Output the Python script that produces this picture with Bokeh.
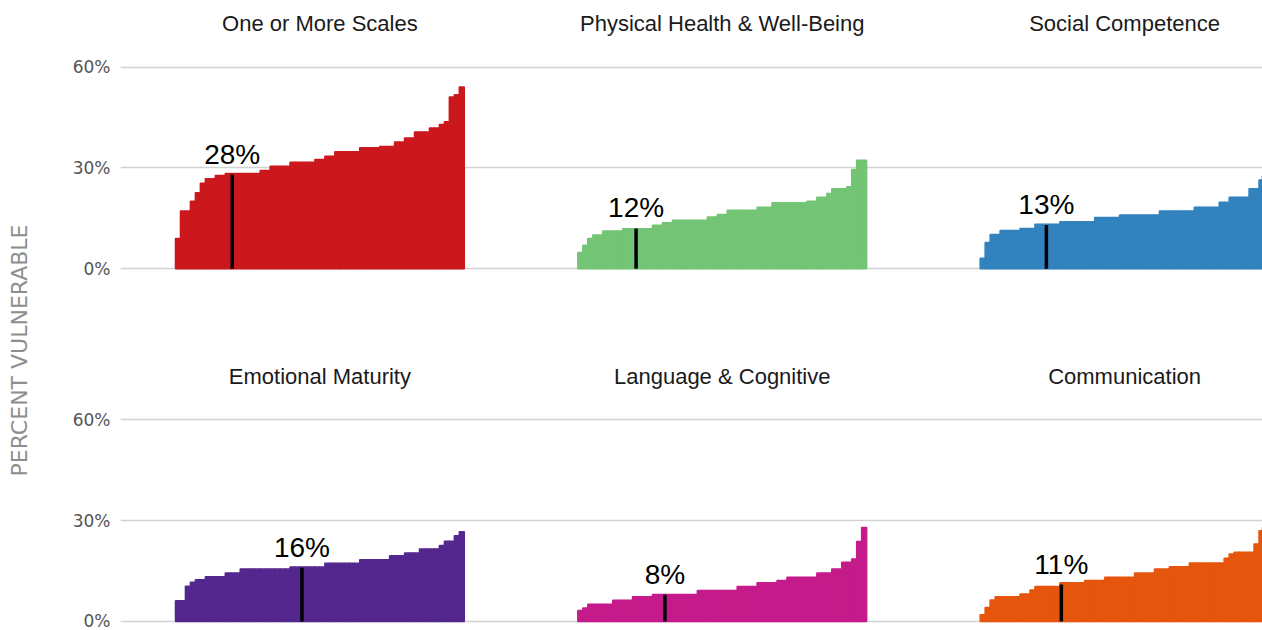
import numpy as np
from bokeh.plotting import figure
from bokeh.layouts import row
from bokeh.models import Range1d, FixedTicker, ColumnDataSource
from bokeh.core.properties import value
from bokeh.embed import file_html
from bokeh.resources import INLINE

# ---------------- data ----------------
titles = ["One or More Scales", "Physical Health & Well-Being", "Social Competence",
          "Emotional Maturity", "Language & Cognitive", "Communication"]
colors = ["#cb181d", "#74c476", "#3182bd", "#54278f", "#c51b8a", "#e6550d"]

one_or_more = [9.0, 17.2, 17.2, 20.1, 22.6, 25.4, 26.8, 26.8, 27.7, 27.7,
               28.3, 28.3, 28.3, 28.3, 28.3, 28.3, 28.3, 29.2, 29.2, 30.5,
               30.5, 30.5, 30.5, 31.7, 31.7, 31.7, 31.7, 31.7, 32.5, 32.5,
               33.5, 33.5, 34.8, 34.8, 34.8, 34.8, 34.8, 36.0, 36.0, 36.0,
               36.0, 36.4, 36.4, 36.4, 37.7, 37.7, 38.9, 38.9, 40.7, 40.7,
               40.7, 41.9, 41.9, 42.9, 43.7, 51.1, 51.8, 54.1]
physical = [4.8, 7.0, 9.0, 10.0, 10.0, 11.2, 11.2, 11.2, 11.2, 11.9,
            11.9, 11.9, 11.9, 11.9, 11.9, 12.9, 12.9, 13.7, 13.7, 14.4,
            14.4, 14.4, 14.4, 14.4, 14.4, 14.4, 15.4, 15.4, 16.1, 16.1,
            17.4, 17.4, 17.4, 17.4, 17.4, 17.4, 18.3, 18.3, 18.3, 19.6,
            19.6, 19.6, 19.6, 19.6, 19.6, 19.6, 20.1, 20.1, 21.3, 21.3,
            22.4, 23.8, 23.8, 23.8, 24.4, 29.5, 32.3, 32.3]
social = [3.1, 7.8, 10.2, 10.2, 11.4, 11.4, 11.4, 11.4, 12.0, 12.0,
          12.0, 13.2, 13.2, 13.2, 13.2, 13.2, 14.0, 14.0, 14.0, 14.0,
          14.0, 14.0, 14.0, 15.2, 15.2, 15.2, 15.2, 15.2, 16.0, 16.0,
          16.0, 16.0, 16.0, 16.0, 16.0, 16.0, 17.2, 17.2, 17.2, 17.2,
          17.2, 17.2, 17.2, 18.3, 18.3, 18.3, 18.3, 18.3, 19.8, 19.8,
          21.3, 21.3, 21.3, 21.3, 23.8, 23.8, 26.4, 27.5]
emotional = [6.2, 6.2, 10.5, 11.7, 12.4, 12.4, 13.3, 13.3, 13.3, 13.3,
             14.4, 14.4, 14.4, 15.6, 15.6, 15.6, 15.6, 15.6, 15.6, 15.6,
             15.6, 15.6, 15.6, 16.2, 16.2, 16.2, 16.2, 16.2, 16.2, 16.2,
             17.3, 17.3, 17.3, 17.3, 17.3, 17.3, 17.3, 18.4, 18.4, 18.4,
             18.4, 18.4, 18.4, 19.6, 19.6, 19.6, 20.4, 20.4, 20.4, 21.6,
             21.6, 21.6, 21.6, 22.6, 23.9, 23.9, 25.5, 26.7]
language = [3.3, 4.0, 5.1, 5.1, 5.1, 5.1, 5.1, 6.3, 6.3, 6.3,
            6.3, 7.4, 7.4, 7.4, 7.4, 8.0, 8.0, 8.0, 8.0, 8.0,
            8.0, 8.0, 8.0, 8.0, 9.2, 9.2, 9.2, 9.2, 9.2, 9.2,
            9.2, 9.2, 10.4, 10.4, 10.4, 10.4, 11.5, 11.5, 11.5, 11.5,
            12.2, 12.2, 13.2, 13.2, 13.2, 13.2, 13.2, 13.2, 14.4, 14.4,
            14.4, 15.6, 15.6, 17.6, 17.6, 18.6, 23.8, 28.0]
communication = [2.0, 4.2, 6.4, 7.4, 7.4, 7.4, 7.4, 7.4, 8.2, 8.2,
                 9.4, 10.4, 10.4, 10.4, 10.4, 10.4, 11.5, 11.5, 11.5, 11.5,
                 11.5, 12.2, 12.2, 12.2, 12.2, 13.2, 13.2, 13.2, 13.2, 13.2,
                 13.2, 14.4, 14.4, 14.4, 14.4, 15.6, 15.6, 15.6, 16.3, 16.3,
                 16.3, 16.3, 17.4, 17.4, 17.4, 17.4, 17.4, 17.4, 17.4, 18.8,
                 20.1, 20.6, 20.6, 20.6, 20.6, 23.1, 27.0, 28.0]
series = [one_or_more, physical, social, emotional, language, communication]

marker_values = [28, 12, 13, 16, 8, 11]
marker_positions = [11.4, 11.7, 13.3, 25.4, 17.5, 16.3]

tick_values = [0, 30, 60]
tick_labels = ["0%", "30%", "60%"]
y_axis_title = "PERCENT VULNERABLE"

# ---------------- layout ----------------
STRIDE = 80.8        # horizontal distance between panel starts (bar units)
ROW_OFFSET = 105     # vertical shift of the top row (percentage units)
panel_col = [0, 1, 2, 0, 1, 2]
panel_row_off = [ROW_OFFSET, ROW_OFFSET, ROW_OFFSET, 0, 0, 0]
TITLE_Y = 73.0
LABEL_GAP = 6.1

# narrow side figure carrying the rotated axis title
side = figure(width=40, height=630, output_backend="svg", toolbar_location=None,
              x_range=Range1d(0, 40), y_range=Range1d(0, 630),
              x_axis_location=None, y_axis_location=None,
              min_border_left=0, min_border_right=0, min_border_top=0,
              min_border_bottom=0)
side.outline_line_color = None
side.xgrid.visible = False
side.ygrid.visible = False
side.text(x=[18.5], y=[280], text=[y_axis_title], angle=np.pi / 2,
          text_align="center", text_baseline="middle",
          text_font=value("DejaVu Sans"), text_font_size="22px",
          text_color="#8e8e8e")

p = figure(width=1222, height=630, output_backend="svg", toolbar_location=None,
           x_range=Range1d(-11.04, 218.3), y_range=Range1d(-2.68, 184.82),
           min_border_left=80, min_border_right=0, min_border_top=0,
           min_border_bottom=0)
p.outline_line_color = None
p.xaxis.visible = False
p.xgrid.grid_line_color = None

ticks = []
overrides = {}
for off in (ROW_OFFSET, 0):
    for t, lab in zip(tick_values, tick_labels):
        ticks.append(t + off)
        overrides[t + off] = lab
p.yaxis.ticker = FixedTicker(ticks=ticks)
p.yaxis.major_label_overrides = overrides
p.yaxis.axis_line_color = None
p.yaxis.major_tick_line_color = None
p.yaxis.minor_tick_line_color = None
p.yaxis.major_tick_out = 0
p.yaxis.major_tick_in = 0
p.yaxis.major_label_standoff = 10
p.yaxis.major_label_text_font = "DejaVu Sans"
p.yaxis.major_label_text_font_size = "17px"
p.yaxis.major_label_text_color = "#555555"
p.ygrid.grid_line_color = "#d2d2d2"
p.ygrid.grid_line_width = 1.6

for k in range(6):
    vals = np.array(series[k], dtype=float)
    x0 = panel_col[k] * STRIDE
    off = panel_row_off[k]
    xs = x0 + np.arange(len(vals)) + 0.5
    src = ColumnDataSource(dict(x=xs, top=vals + off, bottom=np.full(len(vals), off)))
    p.vbar(x="x", top="top", bottom="bottom", width=1.0, source=src,
           fill_color=colors[k], line_color=colors[k], line_width=1.5)
    mx = x0 + marker_positions[k]
    p.segment(x0=[mx], y0=[off], x1=[mx], y1=[off + marker_values[k]],
              line_color="black", line_width=3.5)
    p.text(x=[mx], y=[off + marker_values[k] + LABEL_GAP],
           text=[f"{marker_values[k]}%"], text_align="center",
           text_baseline="middle", text_font=value("Liberation Sans"),
           text_font_size="28px", text_color="black")
    p.text(x=[x0 + len(vals) / 2], y=[off + TITLE_Y], text=[titles[k]],
           text_align="center", text_baseline="middle",
           text_font=value("Liberation Sans"), text_font_size="22px",
           text_color="#1a1a1a")

layout = row(side, p)
open("out.html", "w").write(file_html(layout, INLINE))
